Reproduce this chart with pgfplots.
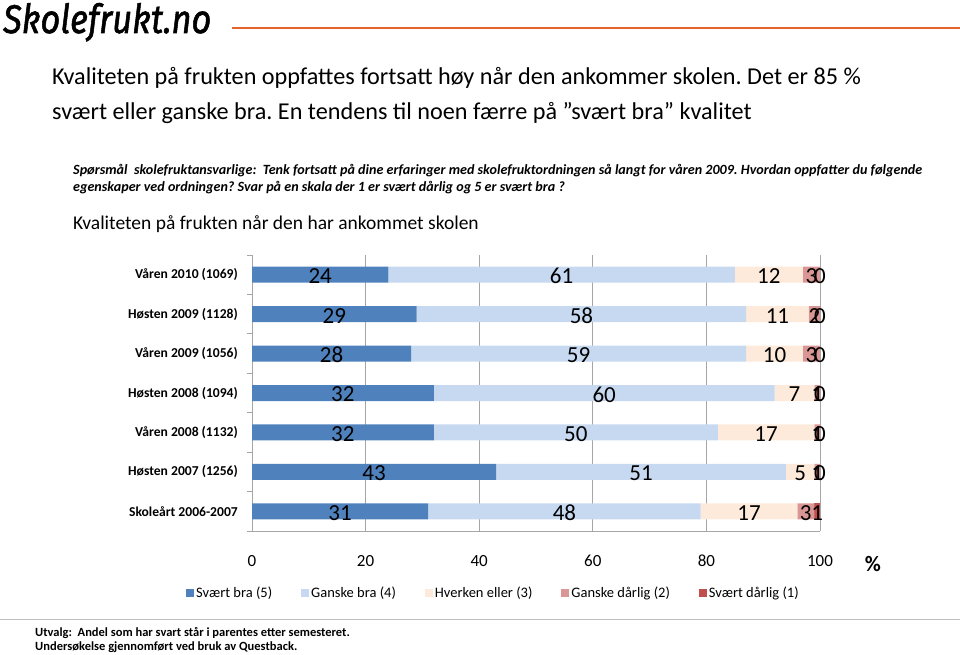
\documentclass[border=0pt]{standalone}
\usepackage{fontspec}
\setmainfont{Carlito}
\newfontfamily\logofont[FakeBold=1.5]{Fira Sans}
\usepackage{pgfplots}
\usepackage{pgfplotstable}
\pgfplotsset{compat=1.18}
\definecolor{cA}{HTML}{4F81BD}
\definecolor{cB}{HTML}{C6D9F1}
\definecolor{cC}{HTML}{FDEADA}
\definecolor{cD}{HTML}{D99694}
\definecolor{cE}{HTML}{C0504D}
\definecolor{gridc}{HTML}{A6A6A6}
\definecolor{orangeline}{HTML}{E5622A}
\frenchspacing

\pgfplotstableread{
pos a b c d e
6 24 61 12 3 0
5 29 58 11 2 0
4 28 59 10 3 0
3 32 60 7 1 0
2 32 50 17 1 0
1 43 51 5 1 0
0 31 48 17 3 1
}\data

\pgfplotsset{
  common/.style={
    at={(252pt,-531pt)}, anchor=south west,
    width=568pt, height=276pt, scale only axis,
    xmin=0, xmax=100, ymin=-0.5, ymax=6.5,
    enlargelimits=false, clip=false,
  },
  lbl/.style={draw=none, mark=none, nodes near coords, point meta=explicit symbolic,
    every node near coord/.append style={font=\fontsize{23}{26}\selectfont, text=black, anchor=center, inner sep=0pt, yshift=-1.5pt}},
}

\begin{document}
\begin{tikzpicture}[x=1pt,y=1pt]
\path[use as bounding box] (0,0) rectangle (960,-655);
% logo
\node[anchor=base west, inner sep=0pt, xscale=0.86, font=\logofont\itshape\fontsize{40}{48}\selectfont] at (3,-33) {Skolefrukt.no};
\draw[color=orangeline, line width=2pt] (232,-28) -- (960,-28);
% title
\node[anchor=base west, inner sep=0pt, font=\fontsize{24.2}{30}\selectfont] at (52,-85) {Kvaliteten på frukten oppfattes fortsatt høy når den ankommer skolen. Det er 85 \%};
\node[anchor=base west, inner sep=0pt, font=\fontsize{24.2}{30}\selectfont] at (52,-120) {svært eller ganske bra. En tendens til noen færre på ”svært bra” kvalitet};
% question
\node[anchor=base west, inner sep=0pt, font=\bfseries\itshape\fontsize{14.1}{17}\selectfont] at (73,-175) {Spørsmål\ \ skolefruktansvarlige:\ \ Tenk fortsatt på dine erfaringer med skolefruktordningen så langt for våren 2009. Hvordan oppfatter du følgende};
\node[anchor=base west, inner sep=0pt, font=\bfseries\itshape\fontsize{14.1}{17}\selectfont] at (73,-192) {egenskaper ved ordningen? Svar på en skala der 1 er svært dårlig og 5 er svært bra ?};
% subtitle
\node[anchor=base west, inner sep=0pt, font=\fontsize{19.5}{24}\selectfont] at (73,-229) {Kvaliteten på frukten når den har ankommet skolen};
% percent sign
\node[anchor=center, inner sep=0pt, font=\bfseries\fontsize{22}{26}\selectfont] at (873,-564) {\%};
% footer
\draw[color=gray!50, line width=0.8pt] (0,-619) -- (960,-619);
\node[anchor=base west, inner sep=0pt, font=\bfseries\fontsize{12.5}{15}\selectfont] at (35,-636) {Utvalg:\ \ Andel som har svart står i parentes etter semesteret.};
\node[anchor=base west, inner sep=0pt, font=\bfseries\fontsize{12.5}{15}\selectfont] at (35,-650) {Undersøkelse gjennomført ved bruk av Questback.};

\begin{axis}[
  common,
  xbar stacked, bar width=16pt,
  xtick={0,20,...,100},
  ytick={0,...,6},
  yticklabels={Skoleårt 2006-2007, Høsten 2007 (1256), Våren 2008 (1132), Høsten 2008 (1094), Våren 2009 (1056), Høsten 2009 (1128), Våren 2010 (1069)},
  minor ytick={-0.5,0.5,...,6.5},
  major tick length=0pt, minor tick length=5pt, tick align=outside,
  minor tick style={draw=gridc, line width=0.8pt},
  xmajorgrids, grid style={draw=gridc, line width=0.8pt},
  axis x line*=bottom, axis y line*=left,
  axis line style={draw=gridc, line width=0.8pt, -},
  /pgf/number format/assume math mode=true,
  xticklabel style={font=\fontsize{17}{20}\selectfont, inner sep=0pt, yshift=-24pt},
  yticklabel style={font=\bfseries\fontsize{13.6}{16}\selectfont, inner sep=0pt, xshift=-14pt},
  legend columns=5,
  legend cell align=left,
  legend style={at={(-0.1162,-0.2246)}, anchor=west, draw=none, fill=none, inner sep=0pt,
    font=\fontsize{14.5}{16}\selectfont,
    /tikz/every even column/.append style={column sep=27pt}},
  legend image code/.code={\fill[#1] (0pt,-4pt) rectangle (8pt,4pt);},
]
\addplot[fill=cA, draw=none] table[x=a, y=pos] {\data};
\addplot[fill=cB, draw=none] table[x=b, y=pos] {\data};
\addplot[fill=cC, draw=none] table[x=c, y=pos] {\data};
\addplot[fill=cD, draw=none] table[x=d, y=pos] {\data};
\addplot[fill=cE, draw=none] table[x=e, y=pos] {\data};
\legend{Svært bra (5), Ganske bra (4), Hverken eller (3), Ganske dårlig (2), Svært dårlig (1)}
\end{axis}

% value labels at the middle of each segment
\begin{axis}[common, hide axis]
\addplot[lbl] table[x expr=\thisrow{a}/2, y=pos, meta=a] {\data};
\addplot[lbl] table[x expr=\thisrow{a}+\thisrow{b}/2, y=pos, meta=b] {\data};
\addplot[lbl] table[x expr=\thisrow{a}+\thisrow{b}+\thisrow{c}/2, y=pos, meta=c] {\data};
\addplot[lbl] table[x expr=\thisrow{a}+\thisrow{b}+\thisrow{c}+\thisrow{d}/2, y=pos, meta=d] {\data};
\addplot[lbl] table[x expr=\thisrow{a}+\thisrow{b}+\thisrow{c}+\thisrow{d}+\thisrow{e}/2, y=pos, meta=e] {\data};
\end{axis}
\end{tikzpicture}
\end{document}
